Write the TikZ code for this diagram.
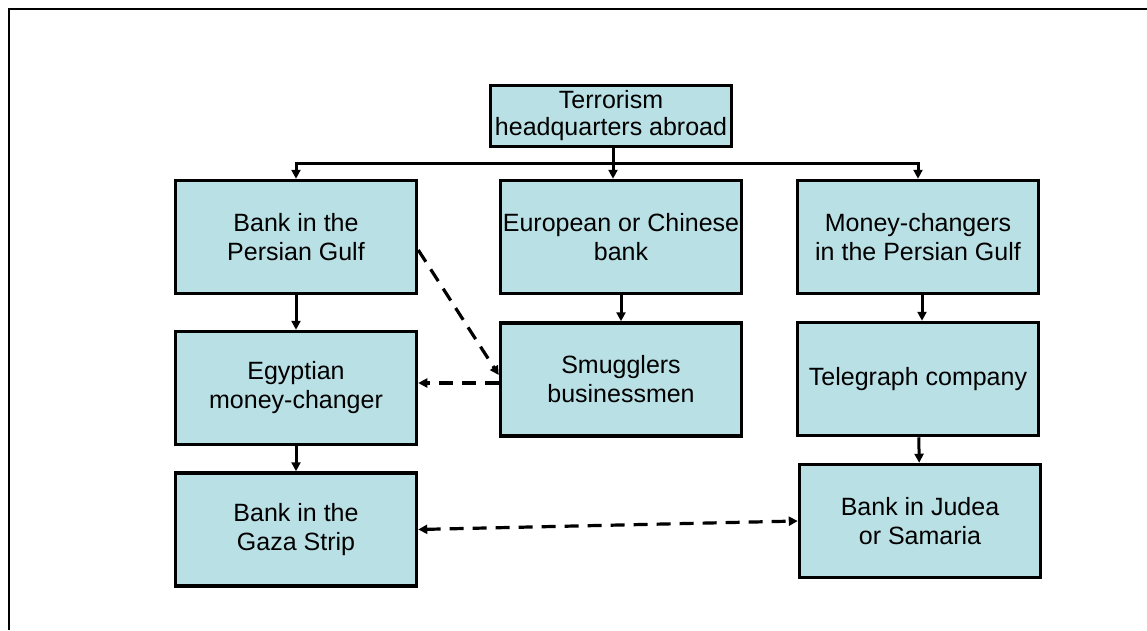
\documentclass[tikz,border=0pt]{standalone}
\usepackage{fontspec}
\setmainfont{Liberation Sans}
\usetikzlibrary{arrows.meta}
\definecolor{boxfill}{RGB}{185,224,228}
\begin{document}
\begin{tikzpicture}[x=1pt, y=-1pt,
  box/.style={draw, line width=3.5pt, fill=boxfill, minimum width=241pt, minimum height=113pt, inner sep=0pt, align=center, font=\fontsize{25}{29}\selectfont},
  flow/.style={line width=3pt, -{Triangle[length=9pt,width=9pt]}},
  dflow/.style={line width=3.2pt, dash pattern=on 14pt off 9pt, -{Triangle[length=9pt,width=9pt]}}]
\useasboundingbox (0,0) rectangle (1147,630);
\draw[line width=2pt] (8.5,630) -- (8.5,8.5) -- (1147,8.5);
\node[box, minimum height=61pt, font=\fontsize{25}{27}\selectfont] (hq) at (611,116) {Terrorism\\headquarters abroad};
\node[box] (bpg) at (296,237) {Bank in the\\Persian Gulf};
\node[box] (euro) at (621,237) {European or Chinese\\bank};
\node[box] (mcg) at (918,237) {Money-changers\\in the Persian Gulf};
\node[box] (egy) at (296,388) {Egyptian\\money-changer};
\node[box] (smug) at (621,379.5) {Smugglers\\businessmen};
\node[box] (tel) at (918,379) {Telegraph company};
\node[box] (gaza) at (296,529.5) {Bank in the\\Gaza Strip};
\node[box] (jud) at (920,521) {Bank in Judea\\or Samaria};
\coordinate (bus) at (613,163);
\draw[line width=3pt] (hq.south -| bus) -- (bus);
\draw[flow] (bus) -| (bpg.north);
\draw[flow] (bus) -| (mcg.north);
\draw[flow] (bus) -- (bus |- euro.north);
\draw[flow] (bpg) -- (egy);
\draw[flow] (egy) -- (gaza);
\draw[flow] (euro) -- (smug);
\draw[flow] ([xshift=4pt]mcg.south) -- ([xshift=4pt]tel.north);
\draw[flow] (tel) -- (jud);
\draw[dflow] ([yshift=-13pt]bpg.east) -- ([yshift=4.5pt]smug.west);
\draw[dflow] ([yshift=-3.5pt]smug.west) -- ([yshift=-3.5pt]smug.west -| egy.east);
\draw[dflow, {Triangle[length=9pt,width=9pt]}-{Triangle[length=9pt,width=9pt]}] (gaza.east) -- (jud.west);
\end{tikzpicture}
\end{document}
